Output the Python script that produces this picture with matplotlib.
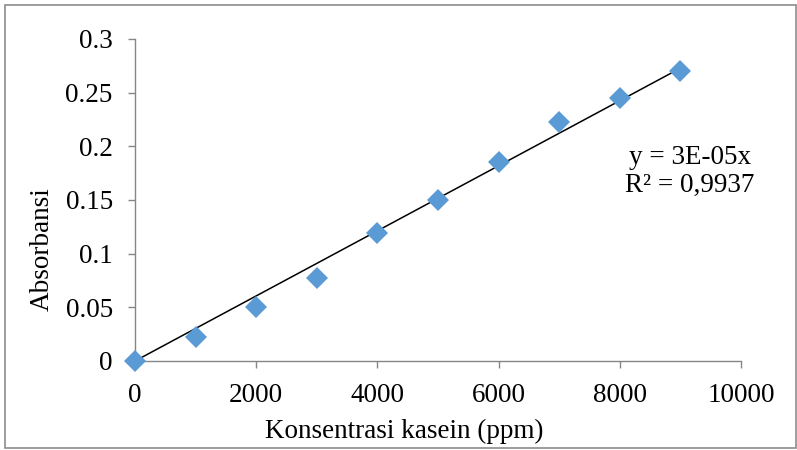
import numpy as np
import matplotlib.pyplot as plt
from matplotlib.patches import Rectangle

plt.rcParams['font.family'] = ['Liberation Serif', 'DejaVu Serif']

# data
konsentrasi = [0, 1000, 2000, 3000, 4000, 5000, 6000, 7000, 8000, 9000]
absorbansi = [0, 0.022, 0.05, 0.077, 0.119, 0.15, 0.185, 0.223, 0.245, 0.27]
x_ticks = [0, 2000, 4000, 6000, 8000, 10000]
y_ticks = [0, 0.05, 0.1, 0.15, 0.2, 0.25, 0.3]
y_labels = ['0', '0.05', '0.1', '0.15', '0.2', '0.25', '0.3']

x = np.array(konsentrasi, dtype=float)
y = np.array(absorbansi)
# trendline through origin
slope = (x * y).sum() / (x * x).sum()

fig = plt.figure(figsize=(7.97, 4.5), dpi=100)
ax = fig.add_axes([135/797, 1 - 361/450, 606/797, 322/450])

grey = '#868686'
fs = 19.5
ax.plot([0, 9000], [0, slope * 9000], color='black', lw=1.1, zorder=2,
        clip_on=False)
ax.plot(x, y, linestyle='none', marker='D', markersize=11.5,
        color='#5B9BD5', markeredgewidth=0, zorder=3, clip_on=False)

ax.set_xlim(0, 10000)
ax.set_ylim(0, 0.3)
ax.set_xticks(x_ticks)
ax.set_yticks(y_ticks)
ax.set_yticklabels(y_labels)
for s in ['top', 'right']:
    ax.spines[s].set_visible(False)
for s in ['left', 'bottom']:
    ax.spines[s].set_color(grey)
    ax.spines[s].set_linewidth(1)
ax.tick_params(direction='out', length=5, width=1, color=grey,
               labelsize=fs)
ax.tick_params(axis='y', pad=11)
ax.tick_params(axis='x', pad=11)

# axis titles placed like the original (not centred on the axes)
fig.text(404/797, 1 - 431/450, 'Konsentrasi kasein (ppm)', ha='center',
         va='center', fontsize=fs)
fig.text(42/797, 1 - 249/450, 'Absorbansi', ha='center', va='center',
         rotation=90, fontsize=fs)

fig.text(690/797, 1 - 157/450, 'y = 3E-05x', ha='center', va='center',
         fontsize=fs)
fig.text(690/797, 1 - 185/450, 'R² = 0,9937', ha='center', va='center',
         fontsize=fs)

# chart border
fig.patches.append(Rectangle((5/797, 2/450), 1 - 6/797, 1 - 7/450,
                             transform=fig.transFigure, fill=False,
                             edgecolor='#8c8c8c', lw=1.2))

plt.savefig('out.png', dpi=100)
